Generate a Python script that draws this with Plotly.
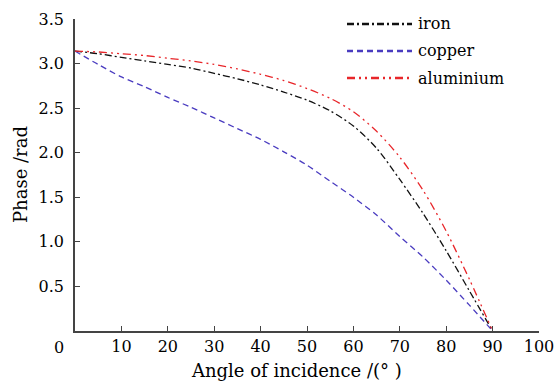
import plotly.graph_objects as go

angle = [0, 5, 10, 15, 20, 25, 30, 35, 40, 45, 50, 55, 60, 65, 70, 75, 80, 85, 90]
iron = [3.14, 3.11, 3.07, 3.03, 2.99, 2.95, 2.89, 2.83, 2.76, 2.68, 2.59, 2.47, 2.30, 2.05, 1.70, 1.32, 0.90, 0.45, 0.0]
copper = [3.14, 2.99, 2.85, 2.74, 2.62, 2.51, 2.39, 2.27, 2.15, 2.01, 1.86, 1.68, 1.50, 1.30, 1.06, 0.83, 0.57, 0.29, 0.0]
aluminium = [3.14, 3.13, 3.11, 3.09, 3.06, 3.03, 2.99, 2.94, 2.88, 2.81, 2.72, 2.61, 2.46, 2.24, 1.95, 1.58, 1.12, 0.58, 0.0]

names = ["iron", "copper", "aluminium"]
series = [iron, copper, aluminium]
colors = ["#111111", "#4a3cc0", "#e8262a"]
dashes = ["7px,3px,2px,3px", "6px,4px", "8px,4px,2px,4px,2px,4px"]

xticks = [10, 20, 30, 40, 50, 60, 70, 80, 90, 100]
yticks = [0.5, 1.0, 1.5, 2.0, 2.5, 3.0, 3.5]

xtitle = "Angle of incidence /(° )"
ytitle = "Phase /rad"

font_family = "DejaVu Serif"
txt = "#000"

fig = go.Figure()
for nm, ys, c, d in zip(names, series, colors, dashes):
    fig.add_trace(go.Scatter(x=angle, y=ys, mode="lines", name=nm,
                             line=dict(color=c, width=1.3, dash=d, shape="spline", smoothing=0.8),
                             showlegend=False))

W, H = 555, 382
ml, mr, mt, mb = 75, 16, 19, 51
pw, ph = W - ml - mr, H - mt - mb
def px2x(px):
    return (px - ml) / pw
def py2y(py):
    return 1 - (py - mt) / ph

# custom legend
leg_rows = [24, 51, 78]
for nm, c, d, ry in zip(names, colors, dashes, leg_rows):
    fig.add_shape(type="line", xref="paper", yref="paper",
                  x0=px2x(347), x1=px2x(412), y0=py2y(ry), y1=py2y(ry),
                  line=dict(color=c, width=2.6, dash=d))
    fig.add_annotation(xref="paper", yref="paper", x=px2x(416), y=py2y(ry),
                       text=nm, showarrow=False, xanchor="left", yanchor="middle",
                       font=dict(family=font_family, size=16, color=txt))

fig.add_annotation(x=0, y=0, xref="x", yref="y", text="0", showarrow=False,
                   xshift=-16, yshift=-16, font=dict(family=font_family, size=16, color=txt))

# axis titles
fig.add_annotation(xref="paper", yref="paper", x=px2x(296), y=py2y(370), text=xtitle,
                   showarrow=False, xanchor="center", yanchor="middle",
                   font=dict(family=font_family, size=18, color=txt))
fig.add_annotation(xref="paper", yref="paper", x=px2x(20), y=py2y(175), text=ytitle,
                   showarrow=False, xanchor="center", yanchor="middle", textangle=-90,
                   font=dict(family=font_family, size=18, color=txt))

fig.update_layout(
    width=W, height=H,
    margin=dict(l=ml, r=mr, t=mt, b=mb, autoexpand=False),
    paper_bgcolor="white", plot_bgcolor="white",
    font=dict(family=font_family, size=16, color=txt),
    xaxis=dict(range=[0, 100], tickvals=xticks, ticks="inside", ticklen=5,
               tickcolor="#444", tickwidth=1.3, automargin=False,
               tickfont=dict(family=font_family, size=16, color=txt),
               showline=True, linecolor="#444", linewidth=1.5, showgrid=False, zeroline=False),
    yaxis=dict(range=[0, 3.5], tickvals=yticks, ticktext=[f"{v:.1f}" for v in yticks],
               ticks="inside", ticklen=5, tickcolor="#444", tickwidth=1.3, automargin=False,
               ticklabelstandoff=6,
               tickfont=dict(family=font_family, size=16, color=txt),
               showline=True, linecolor="#444", linewidth=1.5, showgrid=False, zeroline=False),
)

fig.write_html("out.html")
